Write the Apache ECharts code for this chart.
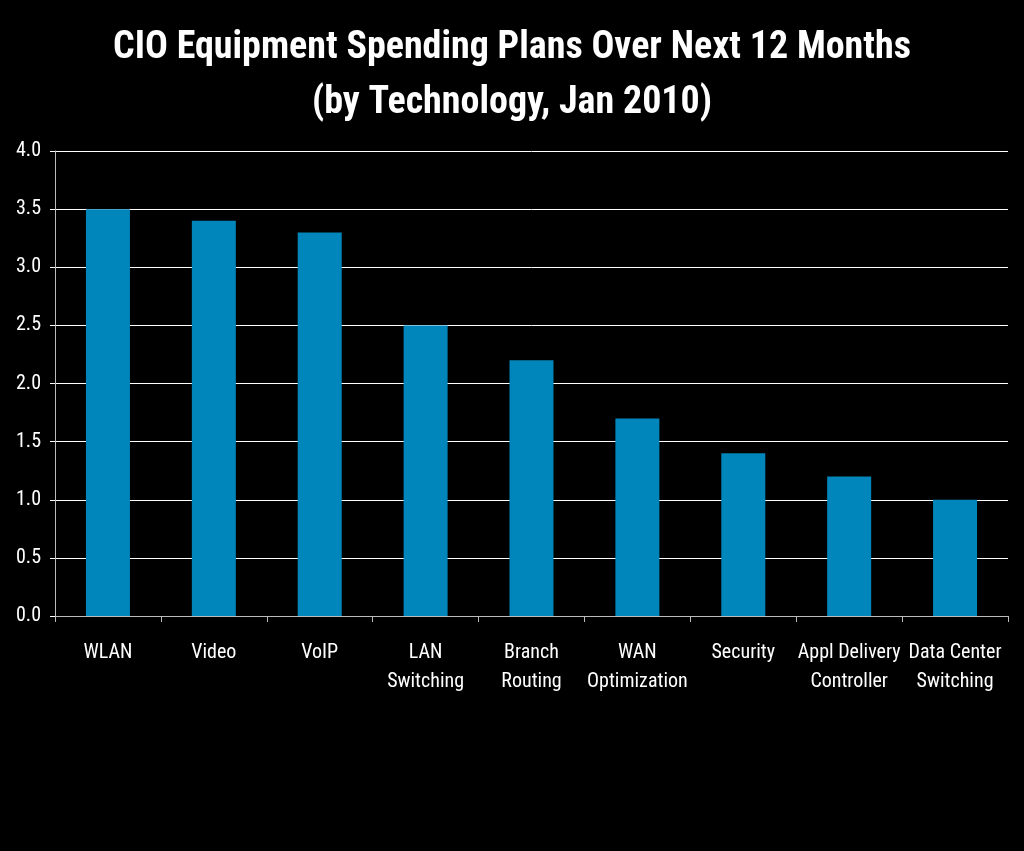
<!DOCTYPE html>
<html><head><meta charset="utf-8">
<script src="https://cdn.jsdelivr.net/npm/echarts@6/dist/echarts.min.js"></script>
<style>html,body{margin:0;padding:0;background:#000;}#c{width:1024px;height:851px;}</style>
</head><body><div id="c"></div>
<script>
const categories = ['WLAN','Video','VoIP','LAN\nSwitching','Branch\nRouting','WAN\nOptimization','Security','Appl Delivery\nController','Data Center\nSwitching'];
const values = [3.5,3.4,3.3,2.5,2.2,1.7,1.4,1.2,1.0];
const yTicks = [0,0.5,1,1.5,2,2.5,3,3.5,4];
const titleText = 'CIO Equipment Spending Plans Over Next 12 Months\n(by Technology, Jan 2010)';
const font = '"Roboto Condensed", "Liberation Sans Narrow", sans-serif';
const chart = echarts.init(document.getElementById('c'));
chart.setOption({
  backgroundColor: '#000',
  animation: false,
  title: {
    text: titleText, left: 'center', top: 16,
    textStyle: {color: '#fff', fontFamily: font, fontWeight: 'bold', fontSize: 38, lineHeight: 55}
  },
  grid: {left: 55, right: 16, top: 151, bottom: 235, containLabel: false},
  xAxis: {
    type: 'category', data: categories,
    axisLine: {lineStyle: {color: '#bbb', width: 1}},
    axisTick: {show: true, alignWithLabel: false, length: 6, lineStyle: {color: '#bbb'}},
    axisLabel: {color: '#fff', fontFamily: font, fontSize: 20, lineHeight: 29, margin: 22, interval: 0}
  },
  yAxis: {
    type: 'value', min: 0, max: 4, interval: 0.5,
    axisLine: {show: true, lineStyle: {color: '#bbb'}},
    axisTick: {show: true, length: 5, lineStyle: {color: '#fff'}},
    splitLine: {lineStyle: {color: '#fff', width: 1}},
    axisLabel: {color: '#fff', fontFamily: font, fontSize: 20, margin: 14,
      formatter: v => yTicks.includes(v) ? v.toFixed(1) : ''}
  },
  series: [{
    type: 'bar', data: values, barWidth: 44,
    itemStyle: {color: '#0086BA'}
  }]
});
</script></body></html>
